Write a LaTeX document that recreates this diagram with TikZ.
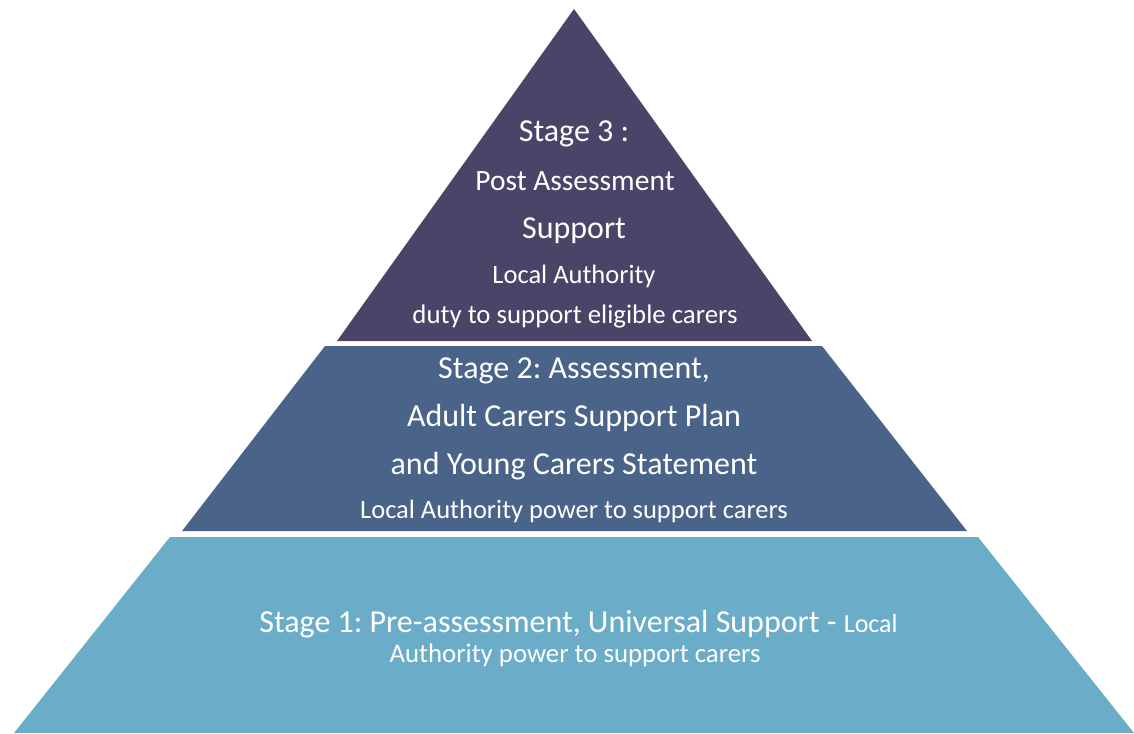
\documentclass[tikz,border=0pt]{standalone}
\usepackage{fontspec}
\setmainfont{Carlito}
\frenchspacing
\definecolor{topc}{HTML}{4A4468}
\definecolor{midc}{HTML}{4A6389}
\definecolor{botc}{HTML}{6BADC8}
\tikzset{
  lbl/.style={text=white, anchor=base, inner sep=0pt},
  big/.style={lbl, font=\fontsize{32}{38}\selectfont},
  mid/.style={lbl, font=\fontsize{29.5}{35}\selectfont},
  small/.style={lbl, font=\fontsize{26.5}{32}\selectfont},
}
\begin{document}
\begin{tikzpicture}[x=1pt,y=-1pt]
\useasboundingbox (0,0) rectangle (1134,733);
% tiers
\fill[topc] (574,9) -- (812,341) -- (337,341) -- cycle;
\fill[midc] (325,346) -- (822,346) -- (967,531) -- (182,531) -- cycle;
\fill[botc] (170,537) -- (978,537) -- (1134,733) -- (14,733) -- cycle;
% stage 3
\node[big] (s3a) at (574,142) {Stage 3 :};
\node[mid] (s3b) at (575,190) {Post Assessment};
\node[big] (s3c) at (574,238) {Support};
\node[small] (s3d) at (574,283) {Local Authority};
\node[small, font=\fontsize{26.8}{32}\selectfont] (s3e) at (575,323) {duty to support eligible carers};
% stage 2
\node[big] (s2a) at (574,378) {Stage 2: Assessment,};
\node[big] (s2b) at (574,426) {Adult Carers Support Plan};
\node[big] (s2c) at (574,474) {and Young Carers Statement};
\node[small] (s2d) at (574,518) {Local Authority power to support carers};
% stage 1
\node[big] (s1a) at (578.5,632) {Stage 1: Pre-assessment, Universal Support - {\fontsize{26}{30}\selectfont Local}};
\node[small, font=\fontsize{26.8}{32}\selectfont] (s1b) at (575,662) {Authority power to support carers};
\end{tikzpicture}
\end{document}
